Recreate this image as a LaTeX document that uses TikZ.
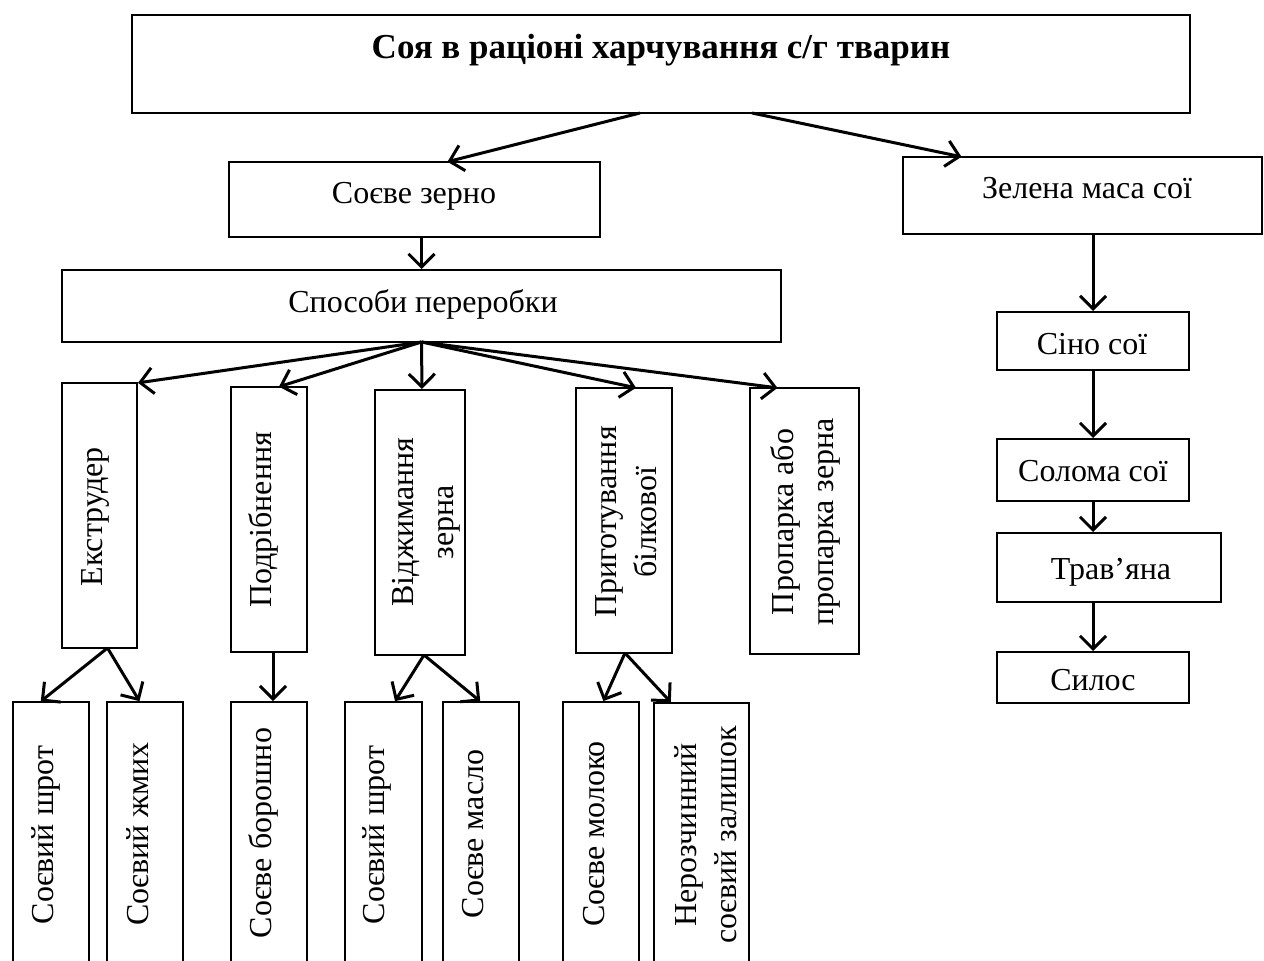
\documentclass[tikz,border=0pt]{standalone}
\usepackage{fontspec}
\setmainfont{Liberation Serif}
\usetikzlibrary{arrows.meta,calc}
\newcommand{\bx}[5]{\node[box,minimum width={#4-#2},minimum height={#5-#3}] (#1) at ({(#2+#4)/2},{(#3+#5)/2}) {};}
\begin{document}
\begin{tikzpicture}[x=1pt,y=-1pt,
  box/.style={draw,line width=1.8pt,inner sep=0pt,outer sep=0pt},
  txtbase/.style={font=\fontsize{32}{40}\selectfont,inner sep=0pt,align=center},
  txt/.style={txtbase,text height=22pt,text depth=7pt},
  vtxt/.style={txt,rotate=90},
  vtxtm/.style={txtbase,rotate=90},
  arr/.style={line width=3pt,shorten >=1pt,-{Straight Barb[length=13pt,width=26pt,line width=3pt]}},
]
\clip (0,0) rectangle (1264,961);
\fill[white] (0,0) rectangle (1264,961);
% boxes
\bx{title}{132}{15}{1190}{113}
\bx{zerno}{229}{162}{600}{237}
\bx{zelena}{903}{157}{1262}{234}
\bx{sposoby}{62}{270}{781}{342}
\bx{ekstr}{62}{383}{137}{648}
\bx{podr}{231}{387}{307}{652}
\bx{vidzh}{375}{390}{465}{655}
\bx{prygot}{576}{388}{672}{653}
\bx{proparka}{750}{388}{859}{654}
\bx{shrotA}{13}{702}{89}{1000}
\bx{zhmyh}{107}{702}{183}{1000}
\bx{borosh}{231}{702}{307}{1000}
\bx{shrotB}{345}{702}{422}{1000}
\bx{maslo}{443}{702}{519}{1000}
\bx{moloko}{563}{702}{639}{1000}
\bx{nerozch}{654}{703}{749}{1000}
\bx{sino}{997}{312}{1189}{370}
\bx{soloma}{997}{439}{1189}{501}
\bx{travyana}{997}{533}{1221}{602}
\bx{sylos}{997}{652}{1189}{703}
% texts
\node[txt,font=\fontsize{35}{42}\selectfont\bfseries] (ttitle) at (661,51) {Соя в раціоні харчування с/г тварин};
\node[txt] (tzerno) at (414,196) {Соєве зерно};
\node[txt] (tzelena) at (1087,191) {Зелена маса сої};
\node[txt] (tsposoby) at (423,305) {Способи переробки};
\node[vtxt] (tekstr) at (95,517) {Екструдер};
\node[vtxt] (tpodr) at (264,520) {Подрібнення};
\node[vtxtm] (tvidzh) at (426,522) {Віджимання\\зерна};
\node[vtxtm] (tprygot) at (626,522) {Приготування\\білкової};
\node[vtxtm] (tproparka) at (805,522) {Пропарка або\\пропарка зерна};
\node[vtxt] (tshrotA) at (46,835) {Соєвий шрот};
\node[vtxt] (tzhmyh) at (141,834) {Соєвий жмих};
\node[vtxt] (tborosh) at (264,833) {Соєве борошно};
\node[vtxt] (tshrotB) at (377,835) {Соєвий шрот};
\node[vtxt] (tmaslo) at (476,834) {Соєве масло};
\node[vtxt] (tmoloko) at (597,834) {Соєве молоко};
\node[vtxtm] (tnerozch) at (706,835) {Нерозчинний\\соєвий залишок};
\node[txt] (tsino) at (1092,347) {Сіно сої};
\node[txt] (tsoloma) at (1093,474) {Солома сої};
\node[txt] (ttravyana) at (1111,572) {Трав’яна};
\node[txt] (tsylos) at (1093,683) {Силос};
% arrows
\draw[arr] ($(title.south)+(-21,0)$) -- ($(zerno.north)+(32,0)$);
\draw[arr] ($(title.south)+(91,0)$) -- ($(zelena.north)+(-120,0)$);
\draw[arr] (sposoby.north |- zerno.south) -- (sposoby.north);
\draw[arr] (sposoby.south) -- (ekstr.north east);
\draw[arr] (sposoby.south) -- ($(podr.north)+(9,0)$);
\draw[arr] (sposoby.south) -- ($(vidzh.north)+(2,0)$);
\draw[arr] (sposoby.south) -- ($(prygot.north)+(13,0)$);
\draw[arr] (sposoby.south) -- ($(proparka.north)+(-26,0)$);
\draw[arr] ($(ekstr.south)+(8,0)$) -- ($(shrotA.north)+(-11,0)$);
\draw[arr] ($(ekstr.south)+(8,0)$) -- ($(zhmyh.north)+(-5,0)$);
\draw[arr] ($(podr.south)+(4,0)$) -- ($(borosh.north)+(4,0)$);
\draw[arr] ($(vidzh.south)+(4,0)$) -- ($(shrotB.north)+(11,0)$);
\draw[arr] ($(vidzh.south)+(4,0)$) -- (maslo.north);
\draw[arr] ($(prygot.south)+(1,0)$) -- ($(moloko.north)+(2,0)$);
\draw[arr] ($(prygot.south)+(1,0)$) -- ($(nerozch.north)+(-30,0)$);
\draw[arr] (sino.north |- zelena.south) -- (sino.north);
\draw[arr] (sino.south) -- (soloma.north);
\draw[arr] (soloma.south) -- (soloma.south |- travyana.north);
\draw[arr] (soloma.south |- travyana.south) -- (sylos.north);
\end{tikzpicture}
\end{document}
